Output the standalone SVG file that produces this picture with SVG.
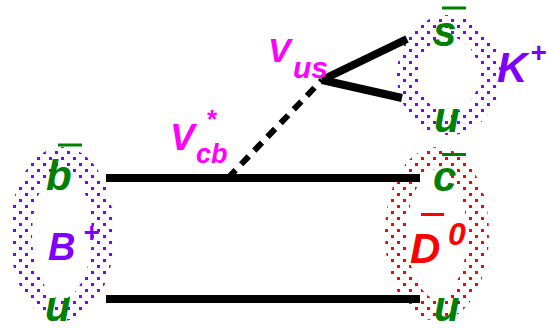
<svg xmlns="http://www.w3.org/2000/svg" width="548" height="329" viewBox="0 0 548 329">
<defs>
<pattern id="dotP" x="1" y="1" width="12" height="12" patternUnits="userSpaceOnUse"><g fill="#8000ff" shape-rendering="crispEdges"><rect width="3" height="3"/><rect x="6" y="6" width="3" height="3"/></g></pattern>
<pattern id="dotR" x="1" y="1" width="12" height="12" patternUnits="userSpaceOnUse"><g fill="#ff0000" shape-rendering="crispEdges"><rect width="3" height="3"/><rect x="6" y="6" width="3" height="3"/></g></pattern>
</defs>
<style>
.t{font-family:"Liberation Sans",Arial,sans-serif;font-weight:bold;font-style:italic}
.q{fill:#008000;font-size:42px}
.bar{stroke:#008000;stroke-width:3}
.ring{fill:none;stroke-width:22}
.prop{stroke:#000;stroke-width:8;fill:none}
.ckm{fill:#ff00ff}
</style>
<rect width="548" height="329" fill="#fff"/>
<g id="Bplus">
<ellipse class="ring" cx="62" cy="234" rx="41" ry="76" stroke="url(#dotP)"/>
<text class="t" x="48" y="260" font-size="38" fill="#8000ff">B</text>
<text class="t" x="83" y="242" font-size="28" fill="#8000ff">+</text>
</g>
<g id="D0">
<ellipse class="ring" cx="437" cy="234" rx="41" ry="76" stroke="url(#dotR)"/>
<line x1="421" y1="214.5" x2="444" y2="214.5" stroke="#ff0000" stroke-width="3"/>
<text class="t" x="410" y="263" font-size="42" fill="#ff0000">D</text>
<text class="t" x="448" y="245" font-size="32" fill="#ff0000">0</text>
</g>
<g id="Kplus">
<ellipse class="ring" cx="449" cy="75" rx="41" ry="49" stroke="url(#dotP)"/>
<text class="t" x="497" y="82" font-size="42" fill="#8000ff">K</text>
<text class="t" x="530" y="62" font-size="28" fill="#8000ff">+</text>
</g>
<g id="connectors">
<line class="prop" x1="106" y1="178" x2="420" y2="178"/>
<line class="prop" x1="106" y1="299" x2="420" y2="299"/>
<line x1="228" y1="178" x2="322" y2="80" stroke="#000" stroke-width="6" stroke-dasharray="11,8"/>
<line class="prop" x1="322" y1="80" x2="407" y2="39"/>
<line class="prop" x1="322" y1="80" x2="402" y2="98"/>
</g>
<g id="quarks">
<line class="bar" x1="58" y1="145" x2="82" y2="145"/>
<text class="t q" x="46" y="190">b</text>
<text class="t q" x="45" y="321">u</text>
<line class="bar" x1="442" y1="154.5" x2="466" y2="154.5"/>
<text class="t q" x="433" y="191">c</text>
<text class="t q" x="434" y="321">u</text>
<line class="bar" x1="442" y1="8" x2="466" y2="8"/>
<text class="t q" x="433" y="46">s</text>
<text class="t q" x="434" y="132">u</text>
</g>
<g id="labels">
<text class="t ckm" x="268" y="62" font-size="34">V</text>
<text class="t ckm" x="293" y="78" font-size="30">us</text>
<text class="t ckm" x="170" y="150" font-size="37">V</text>
<text class="t ckm" x="196" y="163" font-size="27">cb</text>
<text class="t ckm" x="206" y="128" font-size="26">*</text>
</g>
</svg>
